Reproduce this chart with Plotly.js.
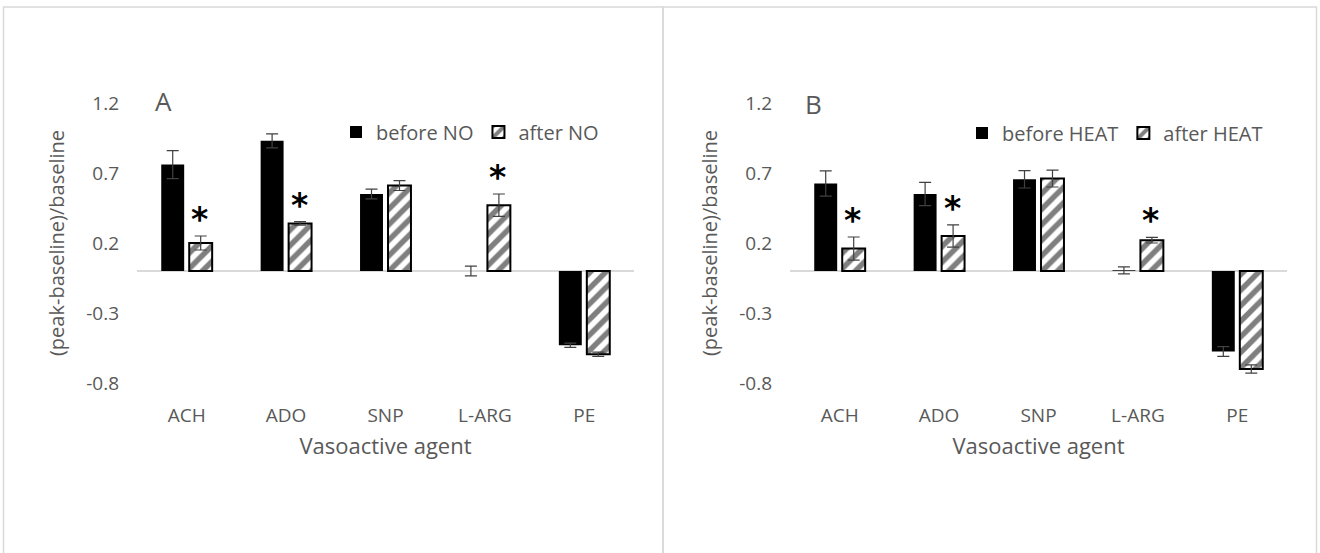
<!DOCTYPE html>
<html>
<head>
<meta charset="utf-8">
<script src="https://cdn.plot.ly/plotly-3.0.1.min.js"></script>
<style>html,body{margin:0;padding:0;background:#fff;}#chart{width:1320px;height:553px;}</style>
</head>
<body>
<div id="chart"></div>
<script>
// ---- data ----
const agents = ["ACH", "ADO", "SNP", "L-ARG", "PE"];
const beforeNO = [0.76, 0.93, 0.55, 0.0, -0.53];
const beforeNOErr = [0.10, 0.05, 0.035, 0.035, 0.015];
const afterNO = [0.20, 0.34, 0.61, 0.47, -0.595];
const afterNOErr = [0.05, 0.012, 0.035, 0.08, 0.015];
const beforeHEAT = [0.625, 0.55, 0.655, 0.005, -0.575];
const beforeHEATErr = [0.09, 0.083, 0.062, 0.025, 0.035];
const afterHEAT = [0.16, 0.25, 0.66, 0.22, -0.70];
const afterHEATErr = [0.083, 0.08, 0.06, 0.02, 0.03];
const starsNO = ["ACH", "ADO", "L-ARG"];
const starsHEAT = ["ACH", "ADO", "L-ARG"];
const yTicks = [-0.8, -0.3, 0.2, 0.7, 1.2];
const yTickText = ["-0.8", "-0.3", "0.2", "0.7", "1.2"];

const GRAY = "#595959";
const FONT = "Open Sans, Liberation Sans, Arial, sans-serif";

function solidBar(name, y, err, xa, ya, legend) {
  return {
    type: "bar", name: name, x: agents, y: y, xaxis: xa, yaxis: ya, legend: legend,
    marker: {color: "#000000", line: {color: "#000000", width: 0}},
    error_y: {type: "data", array: err, visible: true, color: "#404040", thickness: 1.2, width: 6},
    hoverinfo: "x+y"
  };
}
function hatchBar(name, y, err, xa, ya, legend) {
  return {
    type: "bar", name: name, x: agents, y: y, xaxis: xa, yaxis: ya, legend: legend,
    marker: {color: "#ffffff", line: {color: "#000000", width: 2},
      pattern: {shape: "/", fgcolor: "#000000", bgcolor: "#ffffff", size: 11, solidity: 0.5, fillmode: "overlay"}},
    error_y: {type: "data", array: err, visible: true, color: "#404040", thickness: 1.2, width: 6},
    hoverinfo: "x+y"
  };
}

const traces = [
  solidBar("before NO", beforeNO, beforeNOErr, "x", "y", "legend"),
  hatchBar("after NO", afterNO, afterNOErr, "x", "y", "legend"),
  solidBar("before HEAT", beforeHEAT, beforeHEATErr, "x2", "y2", "legend2"),
  hatchBar("after HEAT", afterHEAT, afterHEATErr, "x2", "y2", "legend2")
];

function starAnns(list, vals, errs, xref, yref) {
  return list.map(function (c) {
    const i = agents.indexOf(c);
    return {
      x: i, y: vals[i] + errs[i], xref: xref, yref: yref, text: "*",
      showarrow: false, xanchor: "center", yanchor: "bottom", xshift: 13, yshift: -5,
      font: {family: "DejaVu Sans, sans-serif", size: 33, color: "#000000", weight: "bold"}
    };
  });
}

const W = 1320, TOP = 103, BOT = 383;
const px = v => v / W;
const py = v => (BOT - v) / (BOT - TOP);

function yax(domainAnchor) {
  return {
    anchor: domainAnchor, range: [-0.8, 1.2], tickvals: yTicks, ticktext: yTickText,
    showgrid: false, zeroline: true, zerolinecolor: "#d9d9d9", zerolinewidth: 1.5,
    showline: false, ticks: "", ticklabelstandoff: 17,
    tickfont: {family: FONT, size: 19, color: GRAY},
    title: {text: "(peak-baseline)/baseline", font: {family: FONT, size: 20, color: GRAY}, standoff: 16},
    automargin: false, fixedrange: true
  };
}
function xax(domain, yanchor) {
  return {
    domain: domain, anchor: yanchor, type: "category", categoryorder: "array", categoryarray: agents,
    showgrid: false, zeroline: false, showline: false, ticks: "", ticklabelstandoff: 19,
    tickfont: {family: FONT, size: 19, color: GRAY},
    title: {text: "Vasoactive agent", font: {family: FONT, size: 22, color: GRAY}, standoff: 11},
    automargin: false, fixedrange: true
  };
}

const layout = {
  width: 1320, height: 553,
  margin: {l: 0, r: 0, t: TOP, b: 553 - BOT, pad: 0},
  paper_bgcolor: "#ffffff", plot_bgcolor: "#ffffff",
  barmode: "group", bargap: 0.437, bargroupgap: 0.18,
  showlegend: true,
  xaxis: xax([px(137), px(634)], "y"),
  yaxis: yax("x"),
  xaxis2: xax([px(790), px(1287)], "y2"),
  yaxis2: yax("x2"),
  legend: {orientation: "h", x: px(336), xanchor: "left", y: py(132), yanchor: "middle",
    font: {family: FONT, size: 20, color: GRAY}, bgcolor: "rgba(0,0,0,0)", itemwidth: 30, traceorder: "normal"},
  legend2: {orientation: "h", x: px(962), xanchor: "left", y: py(133), yanchor: "middle",
    font: {family: FONT, size: 20, color: GRAY}, bgcolor: "rgba(0,0,0,0)", itemwidth: 30, traceorder: "normal"},
  annotations: [
    {xref: "paper", yref: "paper", x: px(163), y: py(101), text: "A", showarrow: false,
      xanchor: "center", yanchor: "middle", font: {family: FONT, size: 26, color: GRAY}},
    {xref: "paper", yref: "paper", x: px(813), y: py(104), text: "B", showarrow: false,
      xanchor: "center", yanchor: "middle", font: {family: FONT, size: 26, color: GRAY}}
  ].concat(starAnns(starsNO, afterNO, afterNOErr, "x", "y"))
   .concat(starAnns(starsHEAT, afterHEAT, afterHEATErr, "x2", "y2")),
  shapes: [
    {type: "rect", xref: "paper", yref: "paper", x0: px(3.5), x1: px(663), y0: py(600), y1: py(7),
      line: {color: "#d9d9d9", width: 1.5}, layer: "below"},
    {type: "rect", xref: "paper", yref: "paper", x0: px(663), x1: px(1316.5), y0: py(600), y1: py(7),
      line: {color: "#d9d9d9", width: 1.5}, layer: "below"}
  ]
};

Plotly.newPlot("chart", traces, layout, {displayModeBar: false, staticPlot: true});
</script>
</body>
</html>
